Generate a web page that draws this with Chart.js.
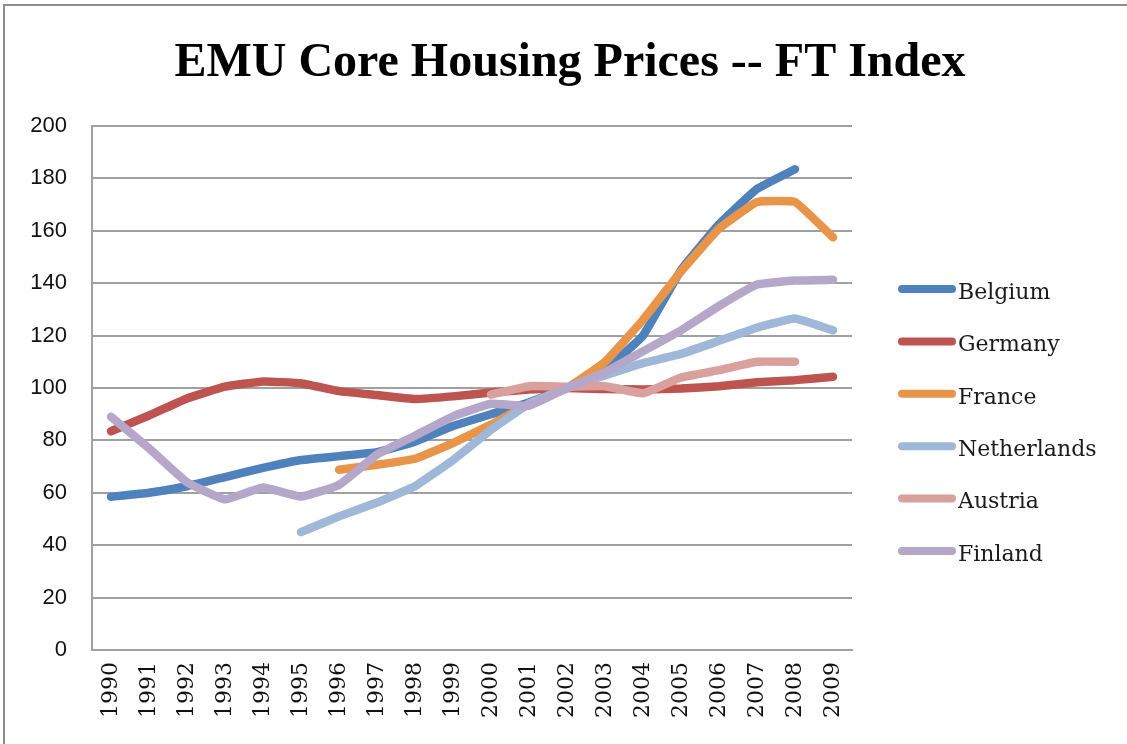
<!DOCTYPE html>
<html>
<head>
<meta charset="utf-8">
<script src="https://cdn.jsdelivr.net/npm/chart.js@4.4.0/dist/chart.umd.min.js"></script>
<style>
  html, body { margin: 0; padding: 0; background: #ffffff; }
  #frame { position: absolute; left: 3px; top: 4px; width: 1130px; height: 745px;
           border-left: 2px solid #8e8e8e; border-top: 2px solid #8e8e8e; }
  #wrap { position: absolute; left: 0; top: 0; width: 1127px; height: 744px; }
</style>
</head>
<body>
<div id="frame"></div>
<div id="wrap"><canvas id="c" width="1127" height="744"></canvas></div>
<script>
const titleText = "EMU Core Housing Prices -- FT Index";
const years = ["1990","1991","1992","1993","1994","1995","1996","1997","1998","1999",
               "2000","2001","2002","2003","2004","2005","2006","2007","2008","2009"];
const yTicks = [0, 20, 40, 60, 80, 100, 120, 140, 160, 180, 200];

const seriesNames = ["Belgium", "Germany", "France", "Netherlands", "Austria", "Finland"];
const belgium     = [58.5, 60, 62.5, 66, 69.5, 72.5, 74, 75.5, 79.5, 85.5, 90, 94.5, 100, 107, 120, 145, 162.5, 176, 183.5, null];
const germany     = [83.5, 89.5, 96, 100.5, 102.5, 101.8, 98.8, 97.3, 95.8, 96.8, 98.3, 99.4, 100, 99.6, 99.4, 99.8, 100.7, 102.2, 103, 104.3];
const france      = [null, null, null, null, null, null, 68.8, 70.7, 73, 79, 86, 94, 100, 110, 126, 144.5, 160.8, 171, 171, 157.5];
const netherlands = [null, null, null, null, null, 45, 51, 56.3, 62.5, 72.5, 84, 94, 100, 104.8, 109.5, 113, 118, 123, 126.5, 122];
const austria     = [null, null, null, null, null, null, null, null, null, null, 97.5, 100.7, 100.5, 100.7, 98, 104, 106.8, 110, 110, null];
const finland     = [89, 77, 64, 57.5, 62, 58.6, 63, 74.6, 81.8, 89.2, 94, 93.2, 100, 106, 114, 122, 131.3, 139.5, 141, 141.3];

const seriesValues = [belgium, germany, france, netherlands, austria, finland];
const seriesColors = ["#4f81bd", "#bd5450", "#e8954a", "#9fb7d8", "#daa09e", "#b5a7c9"];

const datasets = seriesNames.map((name, i) => ({
  label: name,
  data: seriesValues[i],
  borderColor: seriesColors[i],
  backgroundColor: seriesColors[i],
  borderWidth: 8.5,
  pointRadius: 0,
  pointHoverRadius: 0,
  tension: 0.1,
  borderCapStyle: 'round',
  borderJoinStyle: 'round',
  spanGaps: false,
  fill: false,
  order: seriesNames.length - i
}));

const titleAndLegendPlugin = {
  id: 'titleAndLegend',
  afterDraw(chart) {
    const ctx = chart.ctx;
    ctx.save();
    // title
    ctx.fillStyle = '#000000';
    ctx.font = 'bold 48px "Liberation Serif", serif';
    ctx.textAlign = 'center';
    ctx.textBaseline = 'middle';
    ctx.fillText(titleText, 570, 64);
    // legend
    const x0 = 898, x1 = 956, top = 289, step = 52.4;
    chart.data.datasets.forEach((ds, i) => {
      const y = top + i * step;
      ctx.strokeStyle = ds.borderColor;
      ctx.lineWidth = 8;
      ctx.lineCap = 'round';
      ctx.beginPath();
      ctx.moveTo(x0 + 4, y);
      ctx.lineTo(x1 - 4, y);
      ctx.stroke();
      ctx.fillStyle = '#1a1a1a';
      ctx.font = '22px "DejaVu Serif", serif';
      ctx.textBaseline = 'middle';
      ctx.textAlign = 'left';
      ctx.fillText(ds.label, x1 + 2, y + 4);
    });
    ctx.restore();
  }
};

new Chart(document.getElementById('c'), {
  type: 'line',
  data: { labels: years, datasets },
  plugins: [titleAndLegendPlugin],
  options: {
    responsive: false,
    animation: false,
    events: [],
    layout: { padding: { left: 0, right: 275, top: 126, bottom: 0 } },
    plugins: {
      legend: { display: false },
      tooltip: { enabled: false },
      title: { display: false }
    },
    scales: {
      x: {
        offset: true,
        grid: { display: false, drawTicks: false, offset: true },
        border: { display: true, color: '#a0a0a0', width: 2 },
        ticks: {
          color: '#111111',
          font: { family: '"DejaVu Serif", serif', size: 22 },
          minRotation: 90, maxRotation: 90,
          autoSkip: false,
          padding: 12
        },
        afterFit(scale) { scale.height = 94; }
      },
      y: {
        min: 0, max: 200,
        afterBuildTicks(scale) { scale.ticks = yTicks.map(v => ({ value: v })); },
        grid: { color: '#a0a0a0', lineWidth: 2, drawTicks: false },
        border: { display: true, color: '#a0a0a0', width: 2 },
        ticks: {
          color: '#111111',
          font: { family: '"Liberation Sans", sans-serif', size: 22 },
          padding: 25
        },
        afterFit(scale) { scale.width = 92; }
      }
    }
  }
});
</script>
</body>
</html>
